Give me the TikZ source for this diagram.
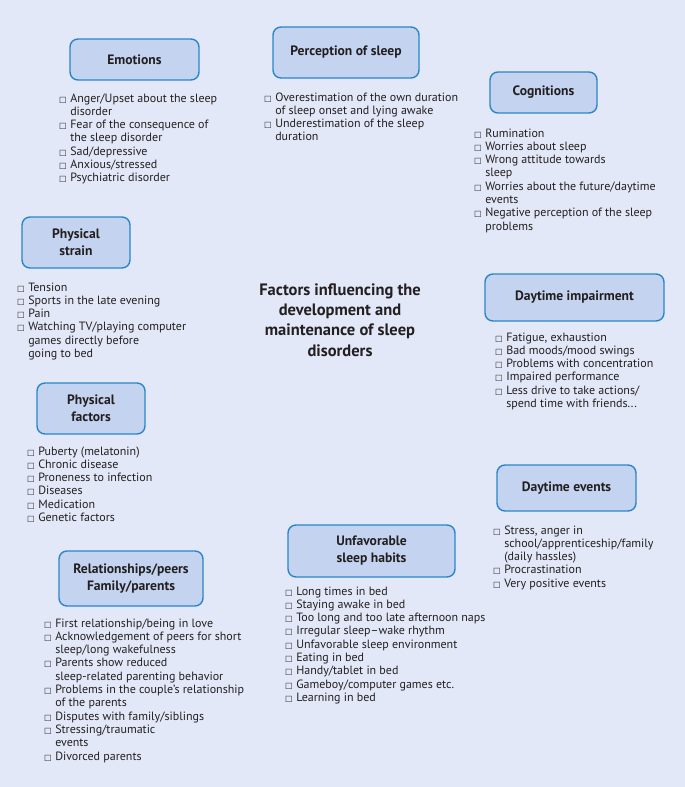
\documentclass[tikz,border=0pt]{standalone}
\usepackage{fontspec}
\setmainfont{PT Sans}
\newfontfamily\symfont{DejaVu Sans}
\usepackage{xcolor}
\usepackage{tikz}
\usetikzlibrary{positioning}
\definecolor{pagebg}{HTML}{E3E8F8}
\definecolor{boxfill}{HTML}{C4D4F0}
\definecolor{boxline}{HTML}{2A86C8}
\definecolor{ink}{HTML}{231F20}
\tikzset{
  factor/.style={draw=boxline, fill=boxfill, rounded corners=8pt, line width=1.4pt, align=center,
    text=ink, font=\fontsize{13.6}{17}\selectfont\bfseries, inner sep=0pt},
  items/.style={anchor=base west, inner sep=0pt, text=ink, font=\fontsize{12}{13.3}\selectfont},
  title/.style={align=center, text=ink, font=\fontsize{16.5}{20.3}\selectfont\bfseries}
}
\newcommand{\sq}{{\symfont\fontsize{8}{8}\selectfont □}}
\newcommand{\itemlist}[1]{\begin{tabular}[t]{@{}l@{\hspace{3.5pt}}l@{}}#1\end{tabular}}

\begin{document}
\begin{tikzpicture}[x=1pt, y=-1pt]
        % Page
        \fill[pagebg] (0,0) rectangle (685,787);
        \useasboundingbox (0,0) rectangle (685,787);

        % Centre title
        \node[title] (main) at (340,320) {Factors influencing the\\development and\\maintenance of sleep\\disorders};

        % Factor boxes
        \node[factor, minimum width=129pt, minimum height=41pt] (emotions)   at (134.5, 59.5) {Emotions};
        \node[factor, minimum width=146pt, minimum height=51pt] (perception) at (346, 52.5)   {Perception of sleep};
        \node[factor, minimum width=107pt, minimum height=41pt] (cognitions) at (543.5, 92.5) {Cognitions};
        \node[factor, minimum width=108pt, minimum height=51pt] (strain)     at (76, 242.5)   {Physical\\strain};
        \node[factor, minimum width=179pt, minimum height=47pt] (impairment) at (574.5, 297.5) {Daytime impairment};
        \node[factor, minimum width=108pt, minimum height=51pt] (physical)   at (91, 408.5)   {Physical\\factors};
        \node[factor, minimum width=139pt, minimum height=46pt] (events)     at (566.5, 488)  {Daytime events};
        \node[factor, minimum width=167pt, minimum height=52pt] (habits)     at (371.5, 551)  {Unfavorable\\sleep habits};
        \node[factor, minimum width=144pt, minimum height=55pt] (relations)  at (131, 578.5)  {Relationships/peers\\Family/parents};

        % Item lists
        \node[items] (emotionsL) at (59, 102) {\itemlist{
          \sq & Anger/Upset about the sleep\\ & disorder\\
          \sq & Fear of the consequence of\\ & the sleep disorder\\
          \sq & Sad/depressive\\
          \sq & Anxious/stressed\\
          \sq & Psychiatric disorder}};
        \node[items] (perceptionL) at (264, 101) {\itemlist{
          \sq & Overestimation of the own duration\\ & of sleep onset and lying awake\\
          \sq & Underestimation of the sleep\\ & duration}};
        \node[items] (cognitionsL) at (474, 137) {\itemlist{
          \sq & Rumination\\
          \sq & Worries about sleep\\
          \sq & Wrong attitude towards\\ & sleep\\
          \sq & Worries about the future/daytime\\ & events\\
          \sq & Negative perception of the sleep\\ & problems}};
        \node[items] (strainL) at (17, 291) {\itemlist{
          \sq & Tension\\
          \sq & Sports in the late evening\\
          \sq & Pain\\
          \sq & Watching TV/playing computer\\ & games directly before\\ & going to bed}};
        \node[items] (impairmentL) at (495, 341) {\itemlist{
          \sq & Fatigue, exhaustion\\
          \sq & Bad moods/mood swings\\
          \sq & Problems with concentration\\
          \sq & Impaired performance\\
          \sq & Less drive to take actions/\\ & spend time with friends...}};
        \node[items] (physicalL) at (27, 455) {\itemlist{
          \sq & Puberty (melatonin)\\
          \sq & Chronic disease\\
          \sq & Proneness to infection\\
          \sq & Diseases\\
          \sq & Medication\\
          \sq & Genetic factors}};
        \node[items] (eventsL) at (493, 534) {\itemlist{
          \sq & Stress, anger in\\ & school/apprenticeship/family\\ & (daily hassles)\\
          \sq & Procrastination\\
          \sq & Very positive events}};
        \node[items] (habitsL) at (285, 595) {\itemlist{
          \sq & Long times in bed\\
          \sq & Staying awake in bed\\
          \sq & Too long and too late afternoon naps\\
          \sq & Irregular sleep--wake rhythm\\
          \sq & Unfavorable sleep environment\\
          \sq & Eating in bed\\
          \sq & Handy/tablet in bed\\
          \sq & Gameboy/computer games etc.\\
          \sq & Learning in bed}};
        \node[items] (relationsL) at (44, 627) {\itemlist{
          \sq & First relationship/being in love\\
          \sq & Acknowledgement of peers for short\\ & sleep/long wakefulness\\
          \sq & Parents show reduced\\ & sleep-related parenting behavior\\
          \sq & Problems in the couple’s relationship\\ & of the parents\\
          \sq & Disputes with family/siblings\\
          \sq & Stressing/traumatic\\ & events\\
          \sq & Divorced parents}};
    \end{tikzpicture}
\end{document}
